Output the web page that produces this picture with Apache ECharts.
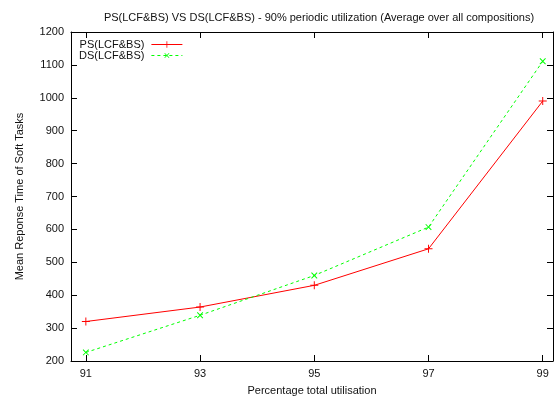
<!DOCTYPE html>
<html>
<head>
<meta charset="utf-8">
<script src="https://cdn.jsdelivr.net/npm/echarts@6/dist/echarts.min.js"></script>
<style>
html,body{margin:0;padding:0;background:#fff;}
#chart{width:559px;height:401px;}
</style>
</head>
<body>
<div id="chart"></div>
<script>
// Total utilisation levels (percent)
const utilisation = [91, 93, 95, 97, 99];
// Mean response time of soft tasks
const psValues = [320, 364, 430, 541, 990];
const dsValues = [226, 339, 460, 607, 1111];
const xTicks = [91, 93, 95, 97, 99];
const yTicks = [200, 300, 400, 500, 600, 700, 800, 900, 1000, 1100, 1200];

const FONT = 'Liberation Sans, Arial, sans-serif';
const plusPath = 'path://M4.4,0H5.6V4.4H10V5.6H5.6V10H4.4V5.6H0V4.4H4.4Z';

const chart = echarts.init(document.getElementById('chart'), null, {renderer: 'canvas'});

const xMin = 90.74, xMax = 99.18;

const baseX = {
  type: 'value', min: xMin, max: xMax,
  axisLine: {show: true, onZero: false, lineStyle: {color: '#000', width: 1}},
  axisTick: {show: true, inside: true, length: 6, customValues: xTicks, lineStyle: {color: '#000'}},
  splitLine: {show: false}
};
const baseY = {
  type: 'value', min: yTicks[0], max: yTicks[yTicks.length - 1], interval: 100,
  axisLine: {show: true, onZero: false, lineStyle: {color: '#000', width: 1}},
  axisTick: {show: true, inside: true, length: 6, lineStyle: {color: '#000'}},
  splitLine: {show: false}
};

chart.setOption({
  animation: false,
  backgroundColor: '#fff',
  textStyle: {fontFamily: FONT},
  title: {
    text: 'PS(LCF&BS) VS DS(LCF&BS) - 90% periodic utilization (Average over all compositions)',
    left: 314, top: 7, textAlign: 'center',
    textStyle: {fontFamily: FONT, fontSize: 11, fontWeight: 'normal', color: '#111'}
  },
  legend: {
    orient: 'vertical', left: 74, top: 34, align: 'right',
    itemWidth: 31, itemHeight: 8, itemGap: 0,
    lineStyle: {width: 1},
    textStyle: {fontFamily: FONT, fontSize: 11, lineHeight: 10, color: '#111', padding: [0, 2, 0, 0]},
    data: ['PS(LCF&BS)', 'DS(LCF&BS)']
  },
  grid: {left: 71, right: 6, top: 32, bottom: 37, containLabel: false},
  xAxis: [
    Object.assign({}, baseX, {
      position: 'bottom',
      name: 'Percentage total utilisation', nameLocation: 'middle', nameGap: 24,
      nameTextStyle: {fontFamily: FONT, fontSize: 11, color: '#111'},
      axisLabel: {show: true, customValues: xTicks, margin: 7, fontSize: 11, color: '#111', fontFamily: FONT}
    }),
    Object.assign({}, baseX, {position: 'top', axisLabel: {show: false}})
  ],
  yAxis: [
    Object.assign({}, baseY, {
      position: 'left',
      name: 'Mean Reponse Time of Soft Tasks', nameLocation: 'middle', nameGap: 46, nameRotate: 90,
      nameTextStyle: {fontFamily: FONT, fontSize: 11, color: '#111'},
      axisLabel: {show: true, margin: 7, fontSize: 11, color: '#111', fontFamily: FONT,
        formatter: v => String(v)}
    }),
    Object.assign({}, baseY, {position: 'right', axisLabel: {show: false}})
  ],
  series: [
    {
      name: 'PS(LCF&BS)', type: 'line',
      data: utilisation.map((u, i) => [u, psValues[i]]),
      symbol: plusPath, symbolSize: 8, showAllSymbol: true,
      lineStyle: {color: '#ff0000', width: 1},
      itemStyle: {color: '#ff0000'}
    },
    {
      name: 'DS(LCF&BS)', type: 'line',
      data: utilisation.map((u, i) => [u, dsValues[i]]),
      symbol: plusPath, symbolSize: 8, symbolRotate: 45, showAllSymbol: true,
      lineStyle: {color: '#00ff00', width: 1, type: [3, 3]},
      itemStyle: {color: '#00ff00'}
    }
  ]
});
</script>
</body>
</html>
